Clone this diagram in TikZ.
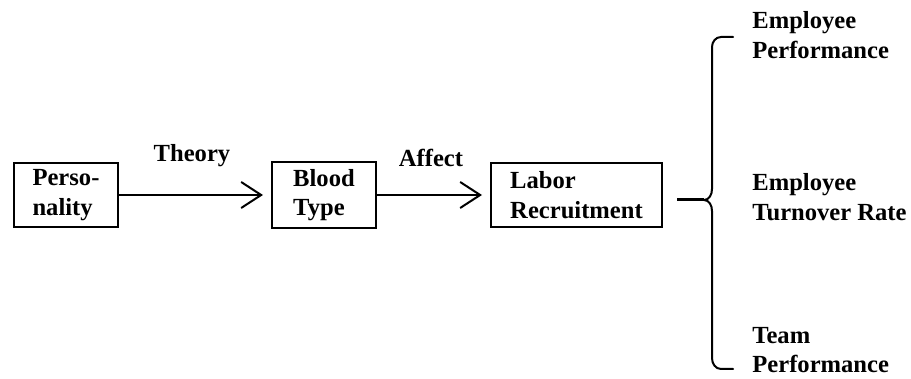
\documentclass[tikz,border=0pt]{standalone}
\usepackage{fontspec}
\setmainfont{Liberation Serif}
\usepackage{tikz}
\usetikzlibrary{arrows.meta}
\tikzstyle{Box}=[draw,line width=1pt,align=left,minimum height=32pt,
font=\bfseries\fontsize{12.3}{14.8}\selectfont]
\tikzstyle{Edge}=[line width=1pt,-{Straight Barb[length=10pt,width=13pt,line width=1pt]},
shorten >=4pt]
\tikzstyle{Label}=[font=\bfseries\fontsize{12.3}{14.8}\selectfont]
\tikzstyle{Out}=[align=left,anchor=west,inner sep=0pt,
font=\bfseries\fontsize{12.3}{14.8}\selectfont]

\begin{document}
\begin{tikzpicture}[x=0.5pt,y=-0.5pt]
        \useasboundingbox(0,0)rectangle(911,379);
        \node[Box,minimum width=52pt](pers)at(66,195){Perso-\\nality};
        \node[Box,minimum width=52pt](blood)at(324,195){Blood\\Type};
        \node[Box,minimum width=85.5pt](labor)at(576.5,195){Labor\\Recruitment};
        \node[Label](theory)at(192,156){Theory};
        \node[Label](affect)at(431,158){Affect};
        \draw[Edge](pers)--(blood);
        \draw[Edge](blood)--(labor);
        \node[Out](perf)at(752,35){Employee\\Performance};
        \node[Out](turn)at(752,197){Employee\\Turnover Rate};
        \node[Out](team)at(752,350){Team\\Performance};
        % brace
        \coordinate(cusp)at(704,200);
        \draw[line width=1.5pt]([xshift=7pt]labor.east|-cusp)--(cusp);
        \draw[line width=1pt,line cap=round](733,37)--(721,37)
            to[out=180,in=90](712,47)--(712,189)
            to[out=-90,in=0](cusp)
            to[out=0,in=90](712,211)--(712,358)
            to[out=-90,in=180](721,369)--(733,369);
    \end{tikzpicture}
\end{document}
